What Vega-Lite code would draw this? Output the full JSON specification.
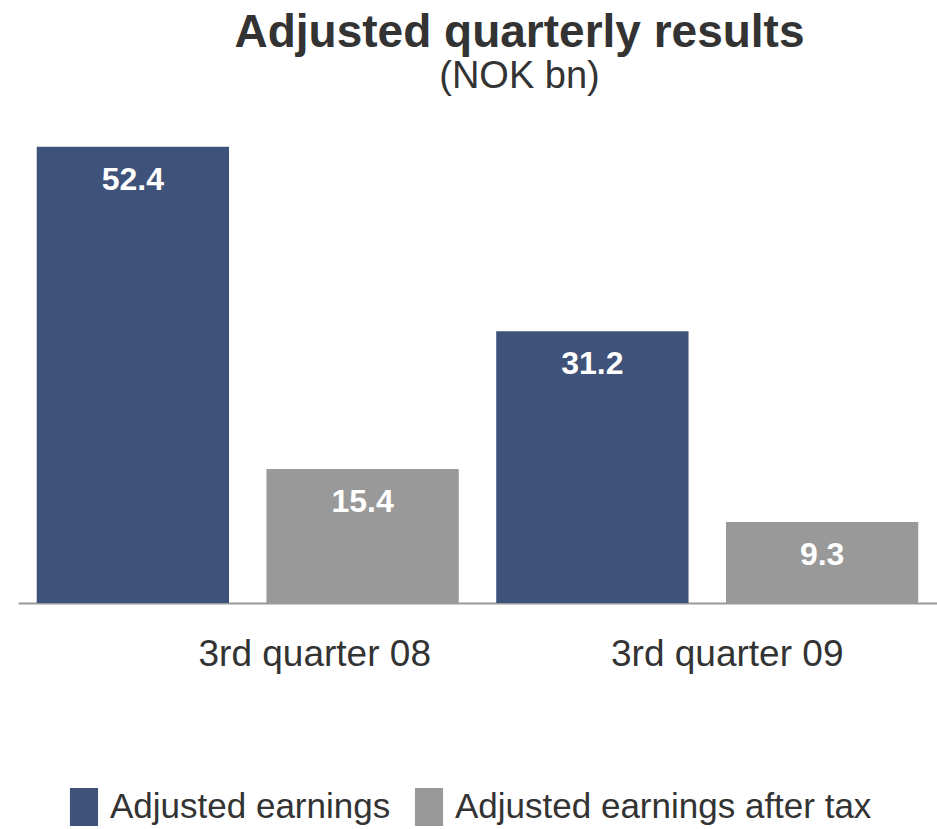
{
  "$schema": "https://vega.github.io/schema/vega-lite/v6.json",
  "width": 919,
  "height": 479,
  "autosize": "none",
  "padding": {"left": 18, "top": 124, "right": 0, "bottom": 226},
  "background": "white",
  "title": {
    "text": "Adjusted quarterly results",
    "subtitle": "(NOK bn)",
    "anchor": "middle",
    "dx": 42,
    "offset": 27,
    "font": "Liberation Sans",
    "fontSize": 46,
    "fontWeight": "bold",
    "color": "#333333",
    "subtitleFont": "Liberation Sans",
    "subtitleFontSize": 38,
    "subtitleColor": "#333333",
    "subtitlePadding": 1
  },
  "data": {
    "values": [
      {"quarter": "3rd quarter 08", "series": "Adjusted earnings", "value": 52.4},
      {"quarter": "3rd quarter 08", "series": "Adjusted earnings after tax", "value": 15.4},
      {"quarter": "3rd quarter 09", "series": "Adjusted earnings", "value": 31.2},
      {"quarter": "3rd quarter 09", "series": "Adjusted earnings after tax", "value": 9.3}
    ]
  },
  "encoding": {
    "x": {
      "field": "quarter",
      "type": "nominal",
      "scale": {"paddingInner": 0, "paddingOuter": 0},
      "axis": {
        "title": null,
        "ticks": false,
        "domainColor": "#999999",
        "domainWidth": 2,
        "labelAngle": 0,
        "labelFont": "Liberation Sans",
        "labelFontSize": 37,
        "labelColor": "#333333",
        "labelPadding": 33,
        "labelLimit": 0,
        "labelBaseline": "top",
        "labelOffset": {"condition": {"test": "datum.value === '3rd quarter 08'", "value": 67}, "value": 20}
      }
    },
    "xOffset": {
      "field": "series",
      "type": "nominal",
      "scale": {"paddingInner": 0.163, "paddingOuter": 0.0815}
    },
    "y": {
      "field": "value",
      "type": "quantitative",
      "scale": {"domain": [0, 55], "nice": false},
      "axis": null
    }
  },
  "layer": [
    {
      "mark": {"type": "bar"},
      "encoding": {
        "color": {
          "field": "series",
          "type": "nominal",
          "scale": {"domain": ["Adjusted earnings", "Adjusted earnings after tax"], "range": ["#3F5279", "#999999"]},
          "legend": {
            "title": null,
            "orient": "none",
            "direction": "horizontal",
            "legendX": 47,
            "legendY": 664,
            "padding": 0,
            "labelFont": "Liberation Sans",
            "labelFontSize": 35,
            "labelColor": "#333333",
            "labelOffset": 7,
            "labelLimit": 0,
            "columnPadding": 19,
            "encode": {
              "symbols": {
                "update": {
                  "shape": {"value": "M-0.74,-1H0.74V1H-0.74Z"},
                  "size": {"value": 1444},
                  "strokeWidth": {"value": 0}
                }
              }
            }
          }
        }
      }
    },
    {
      "mark": {
        "type": "text",
        "baseline": "middle",
        "dy": 33,
        "font": "Liberation Sans",
        "fontSize": 32,
        "fontWeight": "bold",
        "color": "white"
      },
      "encoding": {
        "text": {"field": "value", "type": "quantitative", "format": ".1f"}
      }
    }
  ],
  "config": {
    "view": {"stroke": null}
  }
}
